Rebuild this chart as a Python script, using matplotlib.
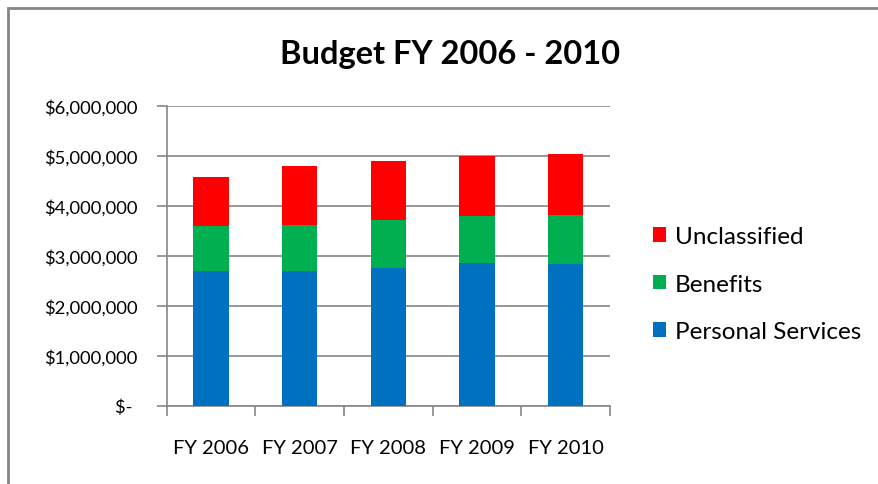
import matplotlib
matplotlib.use("Agg")
import matplotlib.pyplot as plt
import numpy as np
from matplotlib.patches import Rectangle
from matplotlib.ticker import FuncFormatter

years = ["FY 2006", "FY 2007", "FY 2008", "FY 2009", "FY 2010"]
personal_services = [2690000, 2690000, 2760000, 2850000, 2830000]
benefits = [910000, 920000, 950000, 950000, 990000]
unclassified = [980000, 1180000, 1180000, 1190000, 1210000]

BLUE = "#0070C0"
GREEN = "#00B050"
RED = "#FF0000"
GRAY = "#868686"

plt.rcParams["font.family"] = ["Lato", "DejaVu Sans"]

fig = plt.figure(figsize=(8.79, 4.85), dpi=100)
ax = fig.add_axes([0.1896, 0.1615, 0.5044, 0.6185])

x = np.arange(len(years))
ps = np.array(personal_services)
bn = np.array(benefits)
uc = np.array(unclassified)

b1 = ax.bar(x, ps, width=0.4, color=BLUE, zorder=3, label="Personal Services")
b2 = ax.bar(x, bn, width=0.4, bottom=ps, color=GREEN, zorder=3, label="Benefits")
b3 = ax.bar(x, uc, width=0.4, bottom=ps + bn, color=RED, zorder=3, label="Unclassified")

ax.set_xlim(-0.5, len(years) - 0.5)
ax.set_ylim(0, 6000000)
ax.set_yticks(np.arange(0, 6000001, 1000000))


def money(v, pos):
    if v == 0:
        return "$- "
    return "${:,.0f}".format(v)


ax.yaxis.set_major_formatter(FuncFormatter(money))
ax.set_xticks(x)
ax.set_xticklabels(years)
ax.set_xticks(np.arange(-0.5, len(years), 1), minor=True)

ax.tick_params(axis="x", which="major", length=0, pad=24, labelsize=14.5)
ax.tick_params(axis="x", which="minor", length=7, width=1.2, color=GRAY, direction="out")
ax.tick_params(axis="y", length=7, width=1.2, color=GRAY, pad=14, labelsize=13.2)

ax.grid(axis="y", color=GRAY, linewidth=1.2, zorder=0)
for side in ["top", "right"]:
    ax.spines[side].set_visible(False)
for side in ["left", "bottom"]:
    ax.spines[side].set_color(GRAY)
    ax.spines[side].set_linewidth(1.2)

fig.text(0.512, 0.888, "Budget FY 2006 - 2010", ha="center", va="center",
         fontsize=23.5, fontweight="bold")

handles = [b3, b2, b1]
fig.legend(handles, [h.get_label() for h in handles], loc="center left",
           bbox_to_anchor=(0.718, 0.412), frameon=False, fontsize=17.5,
           handlelength=0.55, handleheight=0.55, handletextpad=0.35, labelspacing=1.1)

# outer chart frame
fig.patches.append(Rectangle((8 / 879, -0.1), 2.0, 1.1 - 9 / 485, transform=fig.transFigure,
                             fill=False, edgecolor=GRAY, linewidth=2))

fig.savefig("out.png", dpi=100)
